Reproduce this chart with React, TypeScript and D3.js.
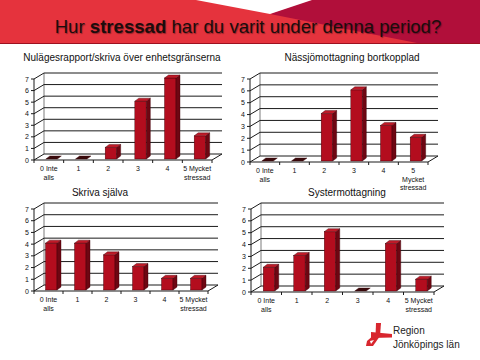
import React from 'react';
import * as d3 from 'd3';

// answers per category
const categories = ['0 Inte|alls', '1', '2', '3', '4', '5 Mycket|stressad'];
const categoriesTall = ['0 Inte|alls', '1', '2', '3', '4', '5|Mycket|stressad'];
const nulage = [0, 0, 1, 5, 7, 2];
const nassjo = [0, 0, 4, 6, 3, 2];
const skriva = [4, 4, 3, 2, 1, 1];
const syster = [2, 3, 5, 0, 4, 1];
const yTicks = [0, 1, 2, 3, 4, 5, 6, 7];

const DX = 10, DY = -6;

function Panel({ title, values, labels, x0, x1, y0, y7, tx, ty }) {
  const x = d3.scaleBand().domain(labels.map((_, i) => String(i))).range([x0, x1]);
  const y = d3.scaleLinear().domain([0, 7]).range([y0, y7]);
  const bw = x.bandwidth();
  return (
    <g fontFamily="Arial, 'Liberation Sans', sans-serif">
      <text x={tx} y={ty} textAnchor="middle" fontSize={10} fill="#111">{title}</text>
      {/* back wall + side wall grid */}
      {yTicks.map(t => (
        <g key={t} stroke="#1a1a1a" strokeWidth={1}>
          <line x1={x0 + DX} x2={x1 + DX} y1={y(t) + DY} y2={y(t) + DY} />
          <line x1={x0} x2={x0 + DX} y1={y(t)} y2={y(t) + DY} />
          <line x1={x0 - 3} x2={x0} y1={y(t)} y2={y(t)} />
        </g>
      ))}
      <line x1={x0} x2={x0} y1={y(0)} y2={y(7)} stroke="#1a1a1a" strokeWidth={1} />
      <line x1={x0 + DX} x2={x0 + DX} y1={y(0) + DY} y2={y(7) + DY} stroke="#222" strokeWidth={0.6} />
      <line x1={x0} x2={x1} y1={y0} y2={y0} stroke="#1a1a1a" strokeWidth={1} />
      <line x1={x1} x2={x1 + DX} y1={y0} y2={y0 + DY} stroke="#1a1a1a" strokeWidth={1} />
      {labels.map((_, i) => (
        <line key={i} x1={x0 + i * bw} x2={x0 + i * bw} y1={y0} y2={y0 + 3} stroke="#1a1a1a" strokeWidth={1} />
      ))}
      <line x1={x1} x2={x1} y1={y0} y2={y0 + 3} stroke="#1a1a1a" strokeWidth={1} />
      {yTicks.map(t => (
        <text key={t} x={x0 - 5} y={y(t) + 2.5} textAnchor="end" fontSize={7} fill="#111">{t}</text>
      ))}
      {values.map((v, i) => {
        const cx = (x(String(i)) as number) + bw / 2;
        const l = cx - 3, r = cx + 8.5, b = y(0) - 1, t = y(v) - 1;
        const dx = 4, dy = -3;
        return (
          <g key={i} stroke="#3a0008" strokeWidth={0.4}>
            {v > 0 && <rect x={l} y={t} width={r - l} height={b - t} fill="#b30d1e" />}
            {v > 0 && <path d={`M${r},${t}L${r + dx},${t + dy}L${r + dx},${b + dy}L${r},${b}Z`} fill="#6e0612" />}
            <path d={`M${l},${t}L${l + dx},${t + dy}L${r + dx},${t + dy}L${r},${t}Z`} fill={v > 0 ? '#c01a28' : '#3a0a0c'} />
          </g>
        );
      })}
      {labels.map((lab, i) => {
        const cx = (x(String(i)) as number) + bw / 2;
        return lab.split('|').map((s, k) => (
          <text key={i + '-' + k} x={cx} y={y0 + 11 + k * 8.5} textAnchor="middle" fontSize={7} fill="#111">{s}</text>
        ));
      })}
    </g>
  );
}

export default function App() {
  return (
    <svg width={480} height={360} style={{ position: 'absolute', left: 0, top: 0 }}>
      <rect width={480} height={360} fill="#fff" />
      <rect width={480} height={43} fill="#e5333d" />
      <path d="M308,0L480,0L480,43L417,43L270,14Z" fill="#b10f3a" />
      <path d="M196,0L312,0L270,14Z" fill="#fff" />
      <line x1={0} x2={480} y1={43.5} y2={43.5} stroke="#9c1020" strokeWidth={1.2} />
      <text x={248} y={33} textAnchor="middle" fontSize={18.6} fontFamily="Arial, 'Liberation Sans', sans-serif" fill="#1c0c0c" style={{ textShadow: '1px 1px 1px rgba(0,0,0,0.35)' }}>
        Hur <tspan fontWeight="bold">stressad</tspan> har du varit under denna period?
      </text>
      <Panel title="Nulägesrapport/skriva över enhetsgränserna" values={nulage} labels={categories} x0={34} x1={212} y0={160} y7={79} tx={122} ty={61} />
      <Panel title="Nässjömottagning bortkopplad" values={nassjo} labels={categoriesTall} x0={250} x1={428} y0={162} y7={79} tx={352} ty={61} />
      <Panel title="Skriva själva" values={skriva} labels={categories} x0={34} x1={208} y0={291} y7={209} tx={100} ty={196} />
      <Panel title="Systermottagning" values={syster} labels={categories} x0={251} x1={434} y0={292} y7={209} tx={347} ty={196} />
      <g fill="#d8262e">
        <path d="M376,323 L381,323 L380,336 L375.5,336Z" />
        <path d="M371,332 L392,334 L392,337.5 L371,338Z" />
        <path d="M375,334 L380,336 L373,346 L366,346 L367,341 Z" />
      </g>
      <path d="M370,341 L374,340 L371,344Z" fill="#fff" />
      <text x={393} y={334} fontSize={10} fontFamily="Arial, 'Liberation Sans', sans-serif" fill="#222">Region</text>
      <text x={393} y={348} fontSize={10} fontFamily="Arial, 'Liberation Sans', sans-serif" fill="#222">Jönköpings län</text>
    </svg>
  );
}
